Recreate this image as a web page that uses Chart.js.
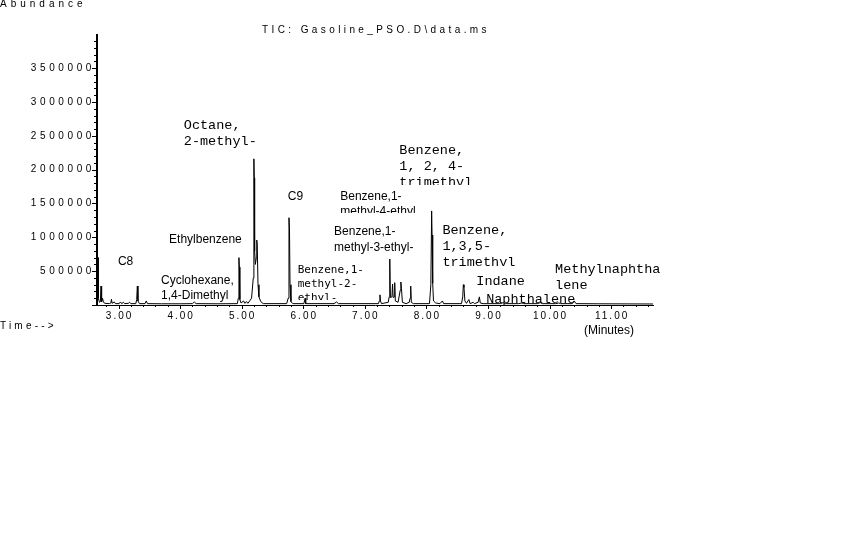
<!DOCTYPE html>
<html>
<head>
<meta charset="utf-8">
<title>TIC: Gasoline_PSO.D\data.ms</title>
<script src="https://cdn.jsdelivr.net/npm/chart.js@4.4.1/dist/chart.umd.min.js"></script>
<style>
  html, body { margin: 0; padding: 0; background: #fff; }
  #wrap { width: 864px; height: 540px; position: relative; }
</style>
</head>
<body>
<div id="wrap"><canvas id="tic" width="864" height="540"></canvas></div>
<script>
// retention time (min) and abundance
const retentionTimes = [
  2.65, 2.667, 2.672, 2.69, 2.705, 2.715, 2.725, 2.74, 2.755, 2.78, 2.85, 2.875, 2.885, 2.895,
  2.93, 2.95, 3.01, 3.03, 3.05, 3.08, 3.10, 3.16, 3.18, 3.20, 3.28, 3.295, 3.305, 3.315,
  3.34, 3.43, 3.45, 3.47, 3.70, 4.00, 4.20, 4.23, 4.26, 4.60, 4.93, 4.945, 4.955, 4.962,
  4.97, 4.99, 5.03, 5.05, 5.08, 5.10, 5.13, 5.16, 5.188, 5.198, 5.204, 5.21, 5.222, 5.238,
  5.245, 5.252, 5.265, 5.28, 5.31, 5.35, 5.73, 5.755, 5.768, 5.776, 5.785, 5.80, 5.83, 6.01,
  6.03, 6.04, 6.50, 6.54, 6.57, 7.22, 7.235, 7.245, 7.255, 7.27, 7.38, 7.395, 7.405, 7.415,
  7.44, 7.45, 7.46, 7.475, 7.485, 7.495, 7.54, 7.575, 7.585, 7.595, 7.61, 7.67, 7.72, 7.735,
  7.745, 7.755, 7.79, 8.05, 8.072, 8.085, 8.092, 8.102, 8.115, 8.15, 8.22, 8.26, 8.28, 8.57,
  8.59, 8.60, 8.61, 8.625, 8.65, 8.69, 8.71, 8.76, 8.78, 8.84, 8.86, 8.875, 8.92, 9.20,
  9.25, 9.28, 9.50, 9.55, 9.58, 9.80, 9.85, 9.88, 10.10, 10.15, 10.18, 10.37, 10.40, 10.43,
  10.80, 11.68
];
const abundances = [
  700000, 700000, 100000, 40000, 50000, 280000, 50000, 100000, 40000, 25000, 20000, 30000, 85000, 25000,
  45000, 20000, 20000, 45000, 20000, 40000, 20000, 25000, 40000, 20000, 20000, 80000, 280000, 60000,
  20000, 20000, 60000, 20000, 18000, 18000, 20000, 45000, 20000, 18000, 20000, 100000, 700000, 560000,
  80000, 30000, 60000, 25000, 50000, 25000, 60000, 100000, 400000, 2160000, 1880000, 800000, 600000, 700000,
  960000, 900000, 300000, 120000, 50000, 20000, 20000, 100000, 1290000, 1140000, 300000, 50000, 20000, 20000,
  100000, 20000, 20000, 45000, 20000, 20000, 60000, 150000, 60000, 20000, 40000, 120000, 680000, 110000,
  120000, 310000, 110000, 120000, 330000, 60000, 40000, 220000, 340000, 240000, 40000, 20000, 40000, 100000,
  280000, 40000, 20000, 20000, 300000, 1390000, 1035000, 320000, 60000, 30000, 20000, 60000, 20000, 20000,
  120000, 300000, 260000, 60000, 25000, 80000, 20000, 40000, 20000, 40000, 120000, 30000, 20000, 20000,
  35000, 20000, 20000, 30000, 20000, 20000, 35000, 20000, 20000, 30000, 20000, 20000, 60000, 20000,
  18000, 15000
];

const yTickValues = [500000, 1000000, 1500000, 2000000, 2500000, 3000000, 3500000];
const yTickLabels = ["500000", "1000000", "1500000", "2000000", "2500000", "3000000", "3500000"];
const xTickValues = [3, 4, 5, 6, 7, 8, 9, 10, 11];
const xTickLabels = ["3.00", "4.00", "5.00", "6.00", "7.00", "8.00", "9.00", "10.00", "11.00"];

// compound labels: text, time and abundance of the first line
const peakNames = [
  ["C8"],
  ["Octane,", "2-methyl-"],
  ["Ethylbenzene"],
  ["Cyclohexane,", "1,4-Dimethyl"],
  ["C9"],
  ["Benzene,1-", "methyl-4-ethyl"],
  ["Benzene,1-", "methyl-3-ethyl-"],
  ["Benzene,1-", "methyl-2-", "ethyl-"],
  ["Benzene,", "1, 2, 4-", "trimethyl"],
  ["Benzene,", "1,3,5-", "trimethyl"],
  ["Indane"],
  ["Naphthalene"],
  ["Methylnaphtha", "lene"]
];
const peakNameTimes = [2.99, 4.06, 3.82, 3.69, 5.75, 6.60, 6.50, 5.91, 7.56, 8.26, 8.81, 8.97, 10.09];
const peakNameLevels = [635000, 2660000, 960000, 355000, 1596000, 1596000, 1079000, 517000, 2290000, 1108000, 355000, 89000, 532000];

const SANS = "12px 'Liberation Sans', Arial, sans-serif";
const MONO = "13.5px 'Liberation Mono', 'Courier New', monospace";
const MONO_S = "11px 'DejaVu Sans Mono', monospace";
const SPACED = "10px 'Liberation Sans', Arial, sans-serif";
// font, line step, clip below centre of last line (null = none)
const labelStyle = [
  [SANS, 15, null], [MONO, 16, null], [SANS, 15, null], [SANS, 15, null], [SANS, 15, null],
  [SANS, 15, 1], [SANS, 16, null], [MONO_S, 14, 2], [MONO, 16, 3], [MONO, 16, 4],
  [MONO, 16, null], [MONO, 16, 6], [MONO, 16, null]
];

const decor = {
  id: "decor",
  beforeDatasetsDraw(chart) {
    const { ctx, scales: { x, y } } = chart;
    ctx.save();
    ctx.fillStyle = "#000";
    ctx.textBaseline = "middle";
    ctx.textAlign = "left";
    peakNames.forEach((lines, i) => {
      const [font, step, clip] = labelStyle[i];
      const px = x.getPixelForValue(peakNameTimes[i]);
      const py = y.getPixelForValue(peakNameLevels[i]);
      ctx.save();
      if (clip !== null) {
        ctx.beginPath();
        ctx.rect(px - 5, 0, 300, py + step * (lines.length - 1) + clip);
        ctx.clip();
      }
      ctx.font = font;
      lines.forEach((t, j) => ctx.fillText(t, px, py + j * step));
      ctx.restore();
    });
    ctx.restore();
  },
  afterDraw(chart) {
    const { ctx, scales: { x, y } } = chart;
    ctx.save();
    ctx.strokeStyle = "#000";
    ctx.lineWidth = 1;
    ctx.beginPath();
    // y ticks, minor every 100000
    for (let v = 0; v <= 4000000; v += 100000) {
      const py = Math.round(y.getPixelForValue(v)) + 0.5;
      if (py < chart.chartArea.top) break;
      const len = v % 500000 === 0 ? 4 : 2;
      ctx.moveTo(x.left - 1 - len, py);
      ctx.lineTo(x.left - 1, py);
    }
    // x ticks, minor every 0.2 min
    for (let k = 14; k <= 58; k++) {
      const t = k / 5;
      const px = Math.round(x.getPixelForValue(t)) + 0.5;
      const len = k % 5 === 0 ? 4 : 2;
      ctx.moveTo(px, y.bottom);
      ctx.lineTo(px, y.bottom + len);
    }
    ctx.stroke();

    ctx.fillStyle = "#000";
    ctx.font = SPACED;
    ctx.textBaseline = "middle";
    ctx.textAlign = "right";
    ctx.letterSpacing = "3.6px";
    yTickValues.forEach((v, i) => {
      ctx.fillText(yTickLabels[i], x.left - 2, y.getPixelForValue(v));
    });
    ctx.textAlign = "center";
    ctx.letterSpacing = "2px";
    xTickValues.forEach((v, i) => {
      ctx.fillText(xTickLabels[i], x.getPixelForValue(v) + 1, y.bottom + 11);
    });
    ctx.textAlign = "left";
    ctx.letterSpacing = "4px";
    ctx.fillText("Abundance", 0, 4);
    ctx.letterSpacing = "3.2px";
    ctx.fillText("Time-->", 0, 326);
    ctx.letterSpacing = "3.4px";
    ctx.fillText("TIC: Gasoline_PSO.D\\data.ms", 262, 30);
    ctx.letterSpacing = "0px";
    ctx.font = SANS;
    ctx.fillText("(Minutes)", 584, 331);
    ctx.restore();
  }
};

new Chart(document.getElementById("tic"), {
  type: "line",
  data: {
    datasets: [{
      label: "TIC",
      data: retentionTimes.map((t, i) => ({ x: t, y: abundances[i] })),
      borderColor: "#000",
      borderWidth: 1,
      pointRadius: 0,
      tension: 0,
      fill: false
    }]
  },
  options: {
    responsive: false,
    animation: false,
    devicePixelRatio: 1,
    layout: { padding: { top: 35, right: 211, left: 0, bottom: 0 } },
    plugins: { legend: { display: false }, tooltip: { enabled: false } },
    scales: {
      x: {
        type: "linear",
        min: 2.65,
        max: 11.68,
        grid: { display: false },
        border: { display: true, color: "#000", width: 1 },
        ticks: { display: false },
        afterFit(scale) { scale.height = 235; }
      },
      y: {
        min: 0,
        max: 3990000,
        grid: { display: false },
        border: { display: true, color: "#000", width: 2 },
        ticks: { display: false },
        afterFit(scale) { scale.width = 97; }
      }
    }
  },
  plugins: [decor]
});
</script>
</body>
</html>
